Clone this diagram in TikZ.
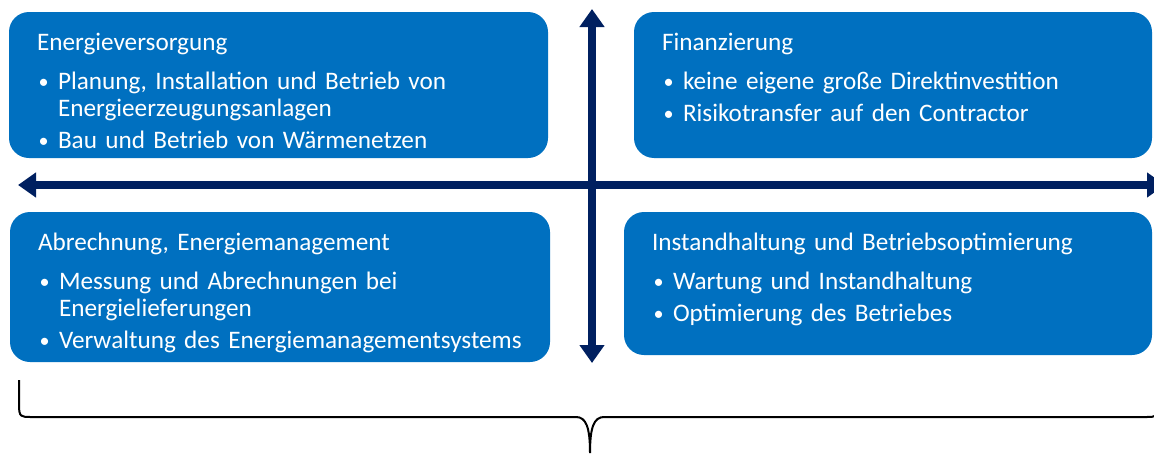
\documentclass[tikz,border=0pt]{standalone}
\usepackage{fontspec}
\usepackage{graphicx}
\setmainfont{Carlito}
\usetikzlibrary{arrows.meta, positioning}
\definecolor{feldblau}{HTML}{0070C0}
\definecolor{achsenblau}{HTML}{002060}
\setlength{\parindent}{0pt}
\newcommand{\punkt}[1]{\par\vspace{2.5pt}\hangindent=10.5pt\hangafter=1\noindent\makebox[10.5pt][l]{\hspace{0.8pt}\raisebox{0.4pt}{\scalebox{0.8}{\textbullet}}}#1}

\begin{document}
\begin{tikzpicture}[x=0.5pt, y=-0.5pt,
  feld/.style={rectangle, rounded corners=10pt, fill=feldblau, inner sep=0pt},
  feldtext/.style={anchor=base west, text=white, text width=255pt, align=left, inner sep=0pt, font=\fontsize{12.6}{13.5}\selectfont},
  achse/.style={{Triangle[length=9pt, width=12pt]}-{Triangle[length=9pt, width=12pt]}, line width=4pt, achsenblau}
]
\useasboundingbox (0,0) rectangle (1154,455);
\clip (0,0) rectangle (1154,455);

% vier Felder
\node[feld, minimum width=269.5pt, minimum height=73pt] (versorgung) at (278.5,85) {};
\node[feld, minimum width=259pt, minimum height=73pt] (finanzierung) at (893,85) {};
\node[feld, minimum width=270pt, minimum height=75pt] (abrechnung) at (280,287) {};
\node[feld, minimum width=264pt, minimum height=71.5pt] (instandhaltung) at (888,283.5) {};

\node[feldtext] (versorgungtxt) at ([xshift=14pt, yshift=-19.25pt]versorgung.north west)
  {Energieversorgung\vspace{3.5pt}
   \punkt{Planung, Installation und Betrieb von\newline Energieerzeugungsanlagen}
   \punkt{Bau und Betrieb von Wärmenetzen}};
\node[feldtext] (finanzierungtxt) at ([xshift=14pt, yshift=-19.25pt]finanzierung.north west)
  {Finanzierung\vspace{3.5pt}
   \punkt{keine eigene große Direktinvestition}
   \punkt{Risikotransfer auf den Contractor}};
\node[feldtext] (abrechnungtxt) at ([xshift=14pt, yshift=-19.25pt]abrechnung.north west)
  {Abrechnung, Energiemanagement\vspace{3.5pt}
   \punkt{Messung und Abrechnungen bei\newline Energielieferungen}
   \punkt{Verwaltung des Energiemanagementsystems}};
\node[feldtext] (instandhaltungtxt) at ([xshift=14pt, yshift=-19.25pt]instandhaltung.north west)
  {Instandhaltung und Betriebsoptimierung\vspace{3.5pt}
   \punkt{Wartung und Instandhaltung}
   \punkt{Optimierung des Betriebes}};

% Achsen
\coordinate (westen) at (18,185);
\coordinate (osten) at (1165,185);
\coordinate (norden) at (592,9);
\coordinate (sueden) at (592,363);
\draw[achse] (westen) -- (osten);
\draw[achse] (norden) -- (sueden);

% Klammer
\draw[line width=1pt] (19,380) -- (19,405) .. controls (19,417) and (21,417) .. (31,417)
  -- (576,417) .. controls (586,417) and (590,427) .. (590,453)
  .. controls (590,427) and (594,417) .. (604,417)
  -- (1146,417) .. controls (1156,417) and (1158,417) .. (1158,405) -- (1158,380);
\end{tikzpicture}
\end{document}
